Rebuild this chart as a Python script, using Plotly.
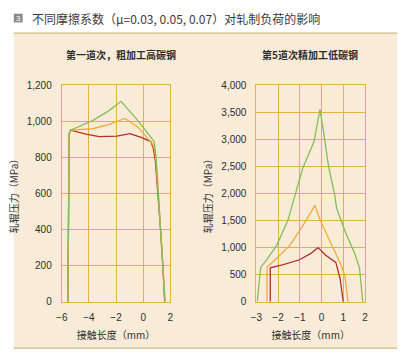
import plotly.graph_objects as go

# ---------------- data ----------------
left_title = "第一道次，粗加工高碳钢"
right_title = "第5道次精加工低碳钢"
header = "不同摩擦系数（μ=0.03, 0.05, 0.07）对轧制负荷的影响"
x_title = "接触长度（mm）"
y_title = "轧辊压力（MPa）"

# Left chart (first pass, rough, high-carbon steel)
L_green_x = [-5.55, -5.45, -5.35, -3.73, -2.54, -1.63, -0.39, 0.81, 0.95, 1.13, 1.30, 1.47, 1.62]
L_green_y = [0, 930, 951, 1004, 1058, 1111, 1004, 888, 800, 600, 400, 200, 0]
L_orange_x = [-5.55, -5.45, -5.35, -3.73, -2.54, -1.34, -0.39, 0.69, 0.85, 0.95, 1.12, 1.29, 1.46, 1.60]
L_orange_y = [0, 930, 951, 959, 982, 1016, 968, 876, 840, 780, 600, 400, 200, 0]
L_red_x = [-5.55, -5.45, -5.35, -4.21, -3.25, -1.94, -0.98, -0.15, 0.57, 0.75, 0.90, 1.10, 1.28, 1.45, 1.58]
L_red_y = [0, 930, 951, 929, 915, 918, 932, 911, 888, 850, 780, 600, 400, 200, 0]

# Right chart (5th pass, finishing, low-carbon steel)
R_green_x = [-2.96, -2.85, -2.80, -2.58, -2.06, -1.54, -1.16, -0.87, -0.34, -0.07, 0.06, 0.33, 0.60, 0.70, 1.08, 1.53, 1.75, 1.90]
R_green_y = [0, 450, 639, 746, 1042, 1514, 2077, 2462, 2965, 3556, 3231, 2490, 1988, 1722, 1308, 893, 627, 0]
R_orange_x = [-2.51, -2.51, -2.06, -1.46, -0.87, -0.30, -0.04, 0.48, 0.86, 1.08, 1.22]
R_orange_y = [0, 639, 805, 1042, 1397, 1781, 1486, 1042, 716, 479, 0]
R_red_x = [-2.36, -2.36, -1.76, -1.01, -0.49, -0.16, 0.18, 0.66, 0.86, 1.00]
R_red_y = [0, 627, 687, 776, 893, 1000, 865, 728, 421, 0]

GREEN = "#86bd5a"
ORANGE = "#f0ac3a"
RED = "#b2322a"
GRID = "#e3b23c"
BG = "#f8ecd8"
TXT = "#2e2e2e"

W, H = 409, 359
def px(x):
    return x / W
def py(y):
    return 1 - y / H

fig = go.Figure()

def add(x, y, color, xa, ya):
    fig.add_trace(go.Scatter(x=x, y=y, mode="lines", line=dict(color=color, width=1.3),
                             xaxis=xa, yaxis=ya, showlegend=False, hoverinfo="skip"))

add(L_red_x, L_red_y, RED, "x", "y")
add(L_orange_x, L_orange_y, ORANGE, "x", "y")
add(L_green_x, L_green_y, GREEN, "x", "y")
add(R_red_x, R_red_y, RED, "x2", "y2")
add(R_orange_x, R_orange_y, ORANGE, "x2", "y2")
add(R_green_x, R_green_y, GREEN, "x2", "y2")

num_font = dict(family="Liberation Sans, Arial", size=10, color=TXT)
cjk = "Noto Sans CJK SC"

def xax(domain, rng, dtick, anchor):
    return dict(domain=domain, range=rng, dtick=dtick, tick0=0, anchor=anchor,
                showgrid=True, gridcolor=GRID, gridwidth=1, zeroline=False,
                showline=True, linecolor=GRID, linewidth=1, mirror=True,
                ticks="", tickfont=num_font, ticklabelstandoff=6,
                title=dict(text=x_title, font=dict(family=cjk, size=10, color=TXT), standoff=10))

def yax(domain, rng, dtick, anchor):
    return dict(domain=domain, range=rng, dtick=dtick, tick0=0, anchor=anchor,
                showgrid=True, gridcolor=GRID, gridwidth=1, zeroline=False,
                showline=True, linecolor=GRID, linewidth=1, mirror=True,
                ticks="", tickfont=num_font, tickformat=",", ticklabelstandoff=7,
                title=dict(text=y_title, font=dict(family=cjk, size=10, color=TXT), standoff=6))

ydom = [py(306), py(82)]
fig.update_layout(
    width=W, height=H, margin=dict(l=0, r=0, t=0, b=0),
    paper_bgcolor="white", plot_bgcolor="rgba(0,0,0,0)",
    separators=".,",
    xaxis=xax([px(57), px(168)], [-6, 2], 2, "y"),
    yaxis=yax(ydom, [0, 1200], 200, "x"),
    xaxis2=xax([px(256), px(367)], [-3, 2], 1, "y2"),
    yaxis2=yax(ydom, [0, 4000], 500, "x2"),
    shapes=[
        dict(type="rect", xref="paper", yref="paper", x0=px(8), x1=px(400), y0=py(354), y1=py(28),
             fillcolor=BG, line=dict(width=0), layer="below"),
        dict(type="line", xref="paper", yref="paper", x0=px(8), x1=px(400), y0=py(28), y1=py(28),
             line=dict(color="#cbbd7c", width=1.2), layer="below"),
        dict(type="line", xref="paper", yref="paper", x0=px(8), x1=px(400), y0=py(354), y1=py(354),
             line=dict(color="#cbbd7c", width=1.2), layer="below"),
        dict(type="rect", xref="paper", yref="paper", x0=px(8), x1=px(17), y0=py(17), y1=py(8),
             fillcolor="#8a8a8a", line=dict(width=0)),
    ],
    annotations=[
        dict(text="3", x=px(12.5), y=py(12.5), xref="paper", yref="paper", showarrow=False,
             font=dict(family="Liberation Sans", size=8, color="white"), xanchor="center", yanchor="middle"),
        dict(text=header, x=px(25), y=py(12.5), xref="paper", yref="paper", showarrow=False,
             font=dict(family=cjk, size=12, color="#3a3a3a"), xanchor="left", yanchor="middle"),
        dict(text="<b>" + left_title + "</b>", x=px(118), y=py(50), xref="paper", yref="paper", showarrow=False,
             font=dict(family=cjk, size=10, color=TXT), xanchor="center", yanchor="middle"),
        dict(text="<b>" + right_title + "</b>", x=px(311), y=py(50), xref="paper", yref="paper", showarrow=False,
             font=dict(family=cjk, size=10, color=TXT), xanchor="center", yanchor="middle"),
    ],
)

fig.write_html("out.html")
